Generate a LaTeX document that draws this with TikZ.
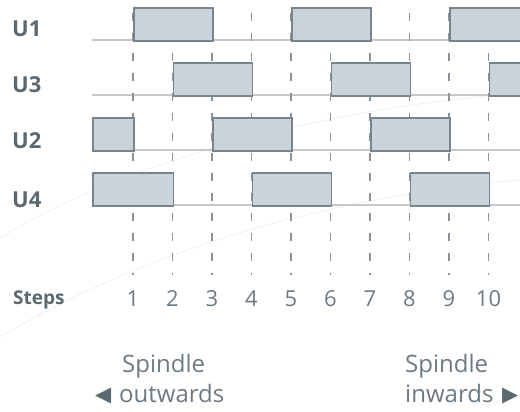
\documentclass[tikz,border=0pt]{standalone}
\usepackage{fontspec}
\setmainfont{Open Sans}
\newfontfamily\symfont{DejaVu Sans}
\definecolor{boxfill}{HTML}{C9D3D9}
\definecolor{boxline}{HTML}{7A848B}
\definecolor{baseln}{HTML}{C3C8CC}
\definecolor{dashcol}{HTML}{8A9399}
\definecolor{labcol}{HTML}{5C6870}
\definecolor{numcol}{HTML}{6E7A83}
\definecolor{arccol}{HTML}{EBEDEE}
\begin{document}
\begin{tikzpicture}[x=1pt,y=-1pt,
  pulse/.style={draw=boxline, fill=boxfill, line width=1.6pt, anchor=north west, inner sep=0pt, minimum height=33pt},
  baseline rule/.style={draw=baseln, line width=1.3pt},
  gridline/.style={draw=dashcol, line width=1.4pt, dash pattern=on 8pt off 12pt},
  lab/.style={font=\fontsize{22}{22}\selectfont\bfseries, text=labcol, anchor=base west, inner sep=0pt},
  steplab/.style={font=\fontsize{19}{19}\selectfont\bfseries, text=labcol, anchor=base west, inner sep=0pt},
  num/.style={font=\fontsize{22}{22}\selectfont, text=numcol, anchor=base, inner sep=0pt},
  captext/.style={font=\fontsize{24}{24}\selectfont, text=numcol, anchor=base west, inner sep=0pt},
  tri/.style={font=\symfont\fontsize{21}{21}\selectfont, text=labcol, anchor=base west, inner sep=0pt},
  arcline/.style={draw=arccol, line width=0.7pt}
]
\useasboundingbox (0,0) rectangle (520,412);
\clip (0,0) rectangle (520,412);
% faint decorative arcs
\draw[arcline] (0,238) .. controls (110,170) and (300,110) .. (520,93);
\draw[arcline] (0,337) .. controls (130,260) and (300,200) .. (520,180);
% baselines
\foreach \y/\n in {40/b1,95/b3,150/b2,205/b4} {
  \coordinate (\n s) at (92,\y);
  \coordinate (\n e) at (521,\y);
  \draw[baseline rule] (\n s) -- (\n e);
}
% step grid lines
\foreach \i in {1,...,10} {
  \pgfmathsetmacro\xx{133+(\i-1)*39.5}
  \coordinate (g\i t) at (\xx,13);
  \coordinate (g\i b) at (\xx,275);
  \draw[gridline] (g\i t) -- (g\i b);
  \node[num] (n\i) at (\xx,306) {\i};
}
% pulses U1
\node[pulse, minimum width=79pt] (u1a) at (133,7) {};
\node[pulse, minimum width=79pt] (u1b) at (291,7) {};
\node[pulse, minimum width=100pt] (u1c) at (449,7) {};
% pulses U3
\node[pulse, minimum width=79pt] (u3a) at (172.5,62) {};
\node[pulse, minimum width=79pt] (u3b) at (330.5,62) {};
\node[pulse, minimum width=60pt] (u3c) at (488.5,62) {};
% pulses U2
\node[pulse, minimum width=41pt] (u2a) at (92,117) {};
\node[pulse, minimum width=79pt] (u2b) at (212,117) {};
\node[pulse, minimum width=79pt] (u2c) at (370,117) {};
% pulses U4
\node[pulse, minimum width=80.5pt] (u4a) at (92,172) {};
\node[pulse, minimum width=79pt] (u4b) at (251.5,172) {};
\node[pulse, minimum width=79pt] (u4c) at (409.5,172) {};
% labels
\node[lab] (l1) at (12,37) {U1};
\node[lab] (l3) at (12,93) {U3};
\node[lab] (l2) at (12,149) {U2};
\node[lab] (l4) at (12,207) {U4};
\node[steplab] (steps) at (13,304) {Steps};
% spindle texts
\node[captext] (sp1) at (122,372) {Spindle};
\node[tri] (tl) at (95,401) {◀};
\node[captext] (out) at (119,402) {outwards};
\node[captext] (sp2) at (405,372) {Spindle};
\node[captext] (in) at (405,402) {inwards};
\node[tri] (tr) at (502,401) {▶};
\end{tikzpicture}
\end{document}
